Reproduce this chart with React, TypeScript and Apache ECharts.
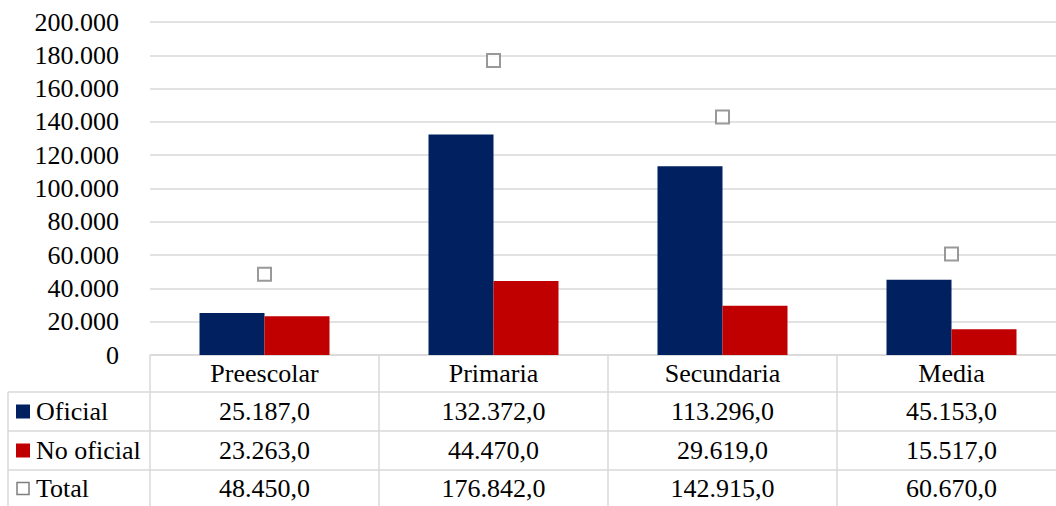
import React, { useEffect, useRef } from "react";
import * as echarts from "echarts";

const categories = ["Preescolar", "Primaria", "Secundaria", "Media"];
const oficial = [25187, 132372, 113296, 45153];
const noOficial = [23263, 44470, 29619, 15517];
const total = [48450, 176842, 142915, 60670];
const rowLabels = ["Oficial", "No oficial", "Total"];
const yMax = 200000;
const yInterval = 20000;

const NAVY = "#002060";
const RED = "#C00000";
const GRAY = "#7f7f7f";
const LINE = "#d9d9d9";
const FONT = "'Liberation Serif', 'Times New Roman', serif";

function groupThousands(s: string): string {
  return s.replace(/\B(?=(\d{3})+(?!\d))/g, ".");
}
function fmtTable(v: number): string {
  const [i, d] = v.toFixed(1).split(".");
  return groupThousands(i) + "," + d;
}
function fmtAxis(v: number): string {
  return groupThousands(String(Math.round(v)));
}

export default function App() {
  const ref = useRef<HTMLDivElement>(null);
  useEffect(() => {
    document.body.style.margin = "0";
    document.body.style.overflow = "hidden";
    if (!ref.current) return;
    const chart = echarts.init(ref.current, null, { renderer: "svg" });
    const labelBase = {
      interval: 0,
      fontSize: 26,
      fontFamily: FONT,
      color: "#000",
      verticalAlign: "middle" as const,
      margin: 18.5,
    };
    const rows = [oficial, noOficial, total];
    const offsets = [38, 77, 115];
    const rowCenters = [411.5, 450.5, 488.5];
    const lineStyle = { stroke: LINE, lineWidth: 1.5 };

    const graphics: any[] = [];
    [392, 431, 470].forEach((y) =>
      graphics.push({ type: "line", shape: { x1: 8, y1: y, x2: 1070, y2: y }, style: lineStyle, silent: true })
    );
    graphics.push({ type: "line", shape: { x1: 8, y1: 392, x2: 8, y2: 506 }, style: lineStyle, silent: true });
    rowLabels.forEach((lbl, i) => {
      const cy = rowCenters[i];
      if (i < 2) {
        graphics.push({
          type: "rect",
          shape: { x: 16, y: cy - 7, width: 14, height: 14 },
          style: { fill: i === 0 ? NAVY : RED },
        });
      } else {
        graphics.push({
          type: "rect",
          shape: { x: 17, y: cy - 6, width: 12, height: 12 },
          style: { fill: "#fff", stroke: GRAY, lineWidth: 1.5 },
        });
      }
      graphics.push({
        type: "text",
        x: 36,
        y: cy,
        style: {
          text: lbl,
          fontSize: 26,
          fontFamily: FONT,
          fill: "#000",
          verticalAlign: "middle",
          align: "left",
        },
      });
    });

    chart.setOption({
      animation: false,
      textStyle: { fontFamily: FONT },
      grid: { left: 150, top: 22, height: 333, right: 0, containLabel: false },
      xAxis: [
        {
          type: "category",
          data: categories,
          position: "bottom",
          axisLine: { show: true, lineStyle: { color: LINE, width: 1.5 } },
          axisTick: { show: true, length: 151, lineStyle: { color: LINE, width: 1.5 } },
          axisLabel: labelBase,
          splitLine: { show: false },
        },
        ...rows.map((r, i) => ({
          type: "category",
          data: r.map(fmtTable),
          position: "bottom",
          offset: offsets[i],
          axisLine: { show: false },
          axisTick: { show: false },
          axisLabel: labelBase,
          splitLine: { show: false },
        })),
      ],
      yAxis: {
        type: "value",
        min: 0,
        max: yMax,
        interval: yInterval,
        axisLine: { show: false },
        axisTick: { show: false },
        axisLabel: {
          fontSize: 26,
          fontFamily: FONT,
          color: "#000",
          margin: 31,
          formatter: (v: number) => fmtAxis(v),
        },
        splitLine: { lineStyle: { color: LINE, width: 1.5 } },
      },
      series: [
        {
          name: "Oficial",
          type: "bar",
          data: oficial,
          barWidth: 65,
          barGap: "0%",
          itemStyle: { color: NAVY },
        },
        {
          name: "No oficial",
          type: "bar",
          data: noOficial,
          barWidth: 65,
          barGap: "0%",
          itemStyle: { color: RED },
        },
        {
          name: "Total",
          type: "scatter",
          data: total,
          symbol: "rect",
          symbolSize: 13,
          itemStyle: { color: "#fff", borderColor: GRAY, borderWidth: 2 },
          z: 5,
        },
      ],
      graphic: graphics,
    });
    return () => chart.dispose();
  }, []);
  return <div ref={ref} style={{ width: 1066, height: 506 }} />;
}
